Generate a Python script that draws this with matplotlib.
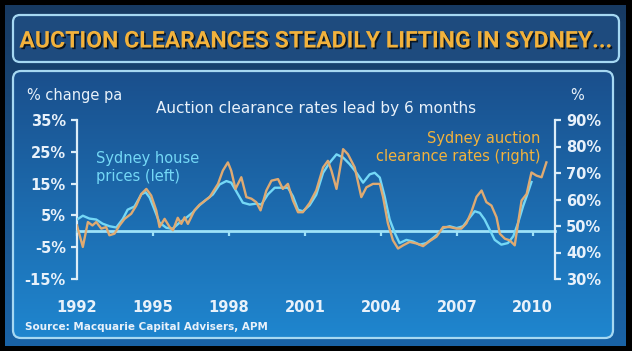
import matplotlib
matplotlib.use('Agg')
import matplotlib.pyplot as plt
import matplotlib.patheffects as pe
from matplotlib.patches import FancyBboxPatch
import numpy as np

# Sydney house prices, % change pa (left axis)
house_years = [1992.0, 1992.23, 1992.49, 1992.76, 1993.01, 1993.28, 1993.55, 1993.81,
               1994.0, 1994.27, 1994.54, 1994.71, 1994.87, 1995.06, 1995.26, 1995.53,
               1995.77, 1996.05, 1996.32, 1996.57, 1996.84, 1997.11, 1997.37, 1997.63,
               1997.9, 1998.09, 1998.29, 1998.55, 1998.82, 1999.08, 1999.28, 1999.54,
               1999.81, 2000.07, 2000.33, 2000.53, 2000.73, 2000.92, 2001.19, 2001.45,
               2001.72, 2001.98, 2002.25, 2002.51, 2002.77, 2003.04, 2003.3, 2003.56,
               2003.76, 2003.96, 2004.15, 2004.35, 2004.55, 2004.74, 2005.01, 2005.27,
               2005.54, 2005.8, 2006.06, 2006.26, 2006.46, 2006.72, 2006.99, 2007.25,
               2007.45, 2007.71, 2007.91, 2008.1, 2008.3, 2008.5, 2008.76, 2009.02,
               2009.23, 2009.42, 2009.62, 2009.76, 2009.95]
house_pct = [3.7, 4.9, 4.0, 3.7, 2.4, 1.6, 1.2, 3.9,
             6.8, 7.8, 11.6, 12.3, 10.6, 6.8, 2.7, 1.1,
             0.8, 2.7, 4.3, 5.9, 8.2, 10.0, 11.6, 14.7,
             15.8, 15.3, 12.6, 9.0, 8.4, 8.7, 8.4, 11.6,
             13.7, 13.7, 13.7, 11.0, 6.8, 6.3, 8.2, 11.5,
             18.4, 21.6, 24.2, 23.2, 21.1, 18.4, 15.3, 17.9,
             18.4, 16.9, 11.0, 3.7, -0.5, -3.7, -2.7, -3.2,
             -4.2, -3.7, -2.1, -0.8, 1.0, 1.6, 1.0, 1.6,
             3.7, 6.3, 5.8, 3.7, 0.5, -2.7, -4.2, -3.7,
             -1.6, 2.6, 7.9, 11.0, 15.5]

# Sydney auction clearance rates, % (right axis)
auction_years = [1992.0, 1992.23, 1992.43, 1992.61, 1992.76, 1992.96, 1993.15, 1993.28,
                 1993.48, 1993.68, 1993.88, 1994.14, 1994.34, 1994.54, 1994.74, 1994.93,
                 1995.13, 1995.26, 1995.46, 1995.66, 1995.79, 1995.98, 1996.12, 1996.25,
                 1996.38, 1996.64, 1996.84, 1997.24, 1997.57, 1997.76, 1997.96, 1998.09,
                 1998.26, 1998.49, 1998.69, 1998.89, 1999.08, 1999.25, 1999.48, 1999.68,
                 1999.94, 2000.13, 2000.33, 2000.53, 2000.73, 2000.92, 2001.19, 2001.45,
                 2001.72, 2001.91, 2002.05, 2002.25, 2002.44, 2002.51, 2002.7, 2002.97,
                 2003.23, 2003.43, 2003.69, 2003.96, 2004.09, 2004.28, 2004.48, 2004.68,
                 2004.88, 2005.14, 2005.41, 2005.67, 2005.93, 2006.2, 2006.46, 2006.72,
                 2006.99, 2007.18, 2007.38, 2007.58, 2007.78, 2007.98, 2008.17, 2008.37,
                 2008.57, 2008.7, 2008.9, 2009.09, 2009.29, 2009.42, 2009.56, 2009.76,
                 2009.95, 2010.15, 2010.35, 2010.54]
auction_pct = [50.2, 42.1, 51.5, 50.2, 51.5, 49.0, 49.6, 46.5,
               47.1, 50.2, 52.7, 54.6, 57.7, 62.1, 64.0, 61.5,
               55.9, 49.6, 52.7, 49.6, 48.4, 53.1, 50.8, 53.3,
               50.8, 55.9, 58.0, 60.9, 65.9, 70.9, 74.0, 70.9,
               64.0, 68.4, 60.9, 60.3, 59.0, 55.9, 63.4, 67.1,
               67.7, 64.0, 65.9, 59.6, 55.2, 55.2, 58.7, 63.4,
               72.1, 74.6, 70.9, 64.0, 74.6, 79.0, 77.1, 72.1,
               60.9, 64.6, 65.9, 65.9, 60.9, 51.0, 44.6, 41.5,
               42.7, 44.0, 43.4, 42.4, 44.3, 46.0, 49.6, 49.6,
               49.0, 49.0, 51.0, 55.4, 61.0, 63.4, 59.0, 57.7,
               53.3, 47.1, 45.2, 44.6, 42.7, 51.0, 59.6, 62.1,
               70.2, 69.0, 68.4, 74.0]

left_ticks = [-15, -5, 5, 15, 25, 35]
right_ticks = [30, 40, 50, 60, 70, 80, 90]
year_ticks = [1992, 1995, 1998, 2001, 2004, 2007, 2010]

W, H = 632, 351
TXT = '#e8f1fa'
CYAN = '#74d8f6'
GOLD = '#f2b23c'

fig = plt.figure(figsize=(W / 100, H / 100), dpi=100)
fig.patch.set_facecolor('black')


def fx(x):
    return x / W


def fy(y):
    return 1 - y / H


# background layer in pixel coordinates
bg = fig.add_axes([0, 0, 1, 1], zorder=0)
bg.set_xlim(0, W)
bg.set_ylim(H, 0)
bg.axis('off')

grad = np.linspace(0, 1, 256).reshape(-1, 1)
outer = matplotlib.colors.LinearSegmentedColormap.from_list('o', ['#173a62', '#1a63a6'])
bg.imshow(grad, cmap=outer, extent=(5, 626, 346, 5), aspect='auto', zorder=0)

title_box = FancyBboxPatch((13, 15), 606, 47, boxstyle='round,pad=0,rounding_size=7',
                           facecolor='#1e4b7e', edgecolor='#a6d8f2', linewidth=1.6, zorder=2)
bg.add_patch(title_box)

chart_box = FancyBboxPatch((13, 71), 600, 267, boxstyle='round,pad=0,rounding_size=8',
                           facecolor='none', edgecolor='#a6d8f2', linewidth=1.6, zorder=3)
bg.add_patch(chart_box)
inner = matplotlib.colors.LinearSegmentedColormap.from_list('i', ['#1a4f8c', '#1f86cf'])
im = bg.imshow(grad, cmap=inner, extent=(13, 613, 338, 71), aspect='auto', zorder=1)
im.set_clip_path(chart_box)

fig.text(fx(315), fy(41), 'AUCTION CLEARANCES STEADILY LIFTING IN SYDNEY...',
         ha='center', va='center', fontsize=16.6, fontweight='bold', color=GOLD,
         family=['Roboto', 'DejaVu Sans'],
         path_effects=[pe.withSimplePatchShadow(offset=(1.2, -1.2), shadow_rgbFace='black', alpha=0.7)])

# main chart
ax = fig.add_axes([fx(77), fy(279), fx(555) - fx(77), fy(120) - fy(279)], zorder=2)
ax.patch.set_alpha(0)
ax2 = ax.twinx()
ax2.patch.set_alpha(0)

ax.plot(house_years, house_pct, color=CYAN, lw=1.7, zorder=3)
ax2.plot(auction_years, auction_pct, color='#dfaa72', lw=1.7, zorder=3)

ax.set_xlim(1992, 2010.88)
ax.set_ylim(-15, 35)
ax2.set_ylim(30, 90)

for a in (ax, ax2):
    a.spines['top'].set_visible(False)
    a.spines['bottom'].set_visible(False)
    a.spines['left'].set_color('#dcedf8')
    a.spines['right'].set_color('#dcedf8')
    a.spines['left'].set_linewidth(1.6)
    a.spines['right'].set_linewidth(1.6)
ax.spines['right'].set_visible(False)
ax2.spines['left'].set_visible(False)

ax.spines['bottom'].set_visible(True)
ax.spines['bottom'].set_position(('data', 0))
ax.spines['bottom'].set_color('#9ee2f8')
ax.spines['bottom'].set_linewidth(2)

ax.set_yticks(left_ticks)
ax.set_yticklabels([f'{v}%' for v in left_ticks])
ax2.set_yticks(right_ticks)
ax2.set_yticklabels([f'{v}%' for v in right_ticks])
ax.set_xticks(year_ticks)
ax.set_xticklabels([str(y) for y in year_ticks])

ax.tick_params(axis='y', direction='out', length=4, width=1.6, color='#dcedf8',
               labelcolor=TXT, labelsize=10.5, pad=4)
ax2.tick_params(axis='y', direction='out', length=4, width=1.6, color='#dcedf8',
                labelcolor=TXT, labelsize=10.5, pad=4)
ax.tick_params(axis='x', direction='out', length=3.5, width=1.6, color='#9ee2f8',
               labelcolor=TXT, labelsize=10.5, pad=46)
for lbl in ax.get_yticklabels() + ax2.get_yticklabels() + ax.get_xticklabels():
    lbl.set_fontweight('bold')

fig.text(fx(27), fy(95), '% change pa', ha='left', va='center', fontsize=10.5, color=TXT)
fig.text(fx(577), fy(95), '%', ha='center', va='center', fontsize=10.5, color=TXT)
fig.text(fx(316), fy(108), 'Auction clearance rates lead by 6 months', ha='center', va='center',
         fontsize=11, color=TXT)
fig.text(fx(96), fy(167), 'Sydney house\nprices (left)', ha='left', va='center',
         fontsize=10.5, color=CYAN, linespacing=1.25)
fig.text(fx(540), fy(147), 'Sydney auction\nclearance rates (right)', ha='right', va='center',
         fontsize=10.5, color=GOLD, linespacing=1.25)
fig.text(fx(25), fy(327), 'Source: Macquarie Capital Advisers, APM', ha='left', va='center',
         fontsize=7.5, fontweight='bold', color=TXT)

fig.savefig('out.png', dpi=100, facecolor='black')
